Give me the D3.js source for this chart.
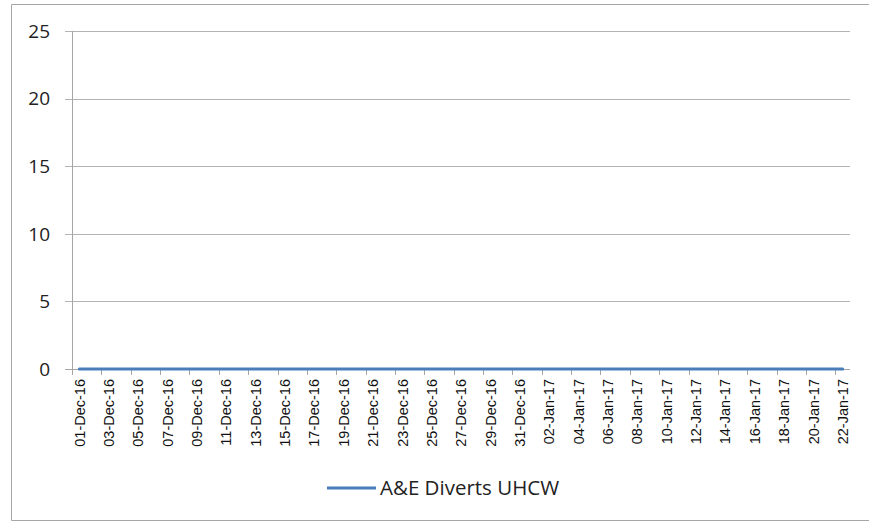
<!DOCTYPE html>
<html>
<head>
<meta charset="utf-8">
<script src="https://cdn.jsdelivr.net/npm/d3@7"></script>
<style>
  body { margin: 0; background: #fff; }
  svg { display: block; }
</style>
</head>
<body>
<div id="chart"></div>
<script>
// categories: one per day
var dates = [
  "01-Dec-16", "02-Dec-16", "03-Dec-16", "04-Dec-16", "05-Dec-16", "06-Dec-16", "07-Dec-16",
  "08-Dec-16", "09-Dec-16", "10-Dec-16", "11-Dec-16", "12-Dec-16", "13-Dec-16", "14-Dec-16",
  "15-Dec-16", "16-Dec-16", "17-Dec-16", "18-Dec-16", "19-Dec-16", "20-Dec-16", "21-Dec-16",
  "22-Dec-16", "23-Dec-16", "24-Dec-16", "25-Dec-16", "26-Dec-16", "27-Dec-16", "28-Dec-16",
  "29-Dec-16", "30-Dec-16", "31-Dec-16", "01-Jan-17", "02-Jan-17", "03-Jan-17", "04-Jan-17",
  "05-Jan-17", "06-Jan-17", "07-Jan-17", "08-Jan-17", "09-Jan-17", "10-Jan-17", "11-Jan-17",
  "12-Jan-17", "13-Jan-17", "14-Jan-17", "15-Jan-17", "16-Jan-17", "17-Jan-17", "18-Jan-17",
  "19-Jan-17", "20-Jan-17", "21-Jan-17", "22-Jan-17"
];

// A&E Diverts UHCW, daily count
var diverts = [
  0, 0, 0, 0, 0, 0, 0,
  0, 0, 0, 0, 0, 0, 0,
  0, 0, 0, 0, 0, 0, 0,
  0, 0, 0, 0, 0, 0, 0,
  0, 0, 0, 0, 0, 0, 0,
  0, 0, 0, 0, 0, 0, 0,
  0, 0, 0, 0, 0, 0, 0,
  0, 0, 0, 0
];

var yTicks = [0, 5, 10, 15, 20, 25];
var seriesName = "A&E Diverts UHCW";

var W = 869, H = 521;
var margin = { top: 31, right: 19, bottom: 152, left: 72 };
var width = W - margin.left - margin.right,
    height = H - margin.top - margin.bottom;

var svg = d3.select("#chart").append("svg")
    .attr("width", W)
    .attr("height", H);

// chart border (right edge falls outside the picture)
svg.append("path")
    .attr("d", "M869,4.5 H11.5 V520.5 H869")
    .attr("fill", "none")
    .attr("stroke", "#a6a6a6")
    .attr("stroke-width", 1);

var g = svg.append("g")
    .attr("transform", "translate(" + margin.left + "," + margin.top + ")");

var x = d3.scaleBand().domain(dates).range([0, width]).padding(0);
var y = d3.scaleLinear().domain([0, 25]).range([height, 0]);

// gridlines + y ticks
g.append("g").selectAll("line")
    .data(yTicks)
    .enter().append("line")
    .attr("x1", -7).attr("x2", width)
    .attr("y1", function (d) { return Math.round(y(d)) + 0.5; })
    .attr("y2", function (d) { return Math.round(y(d)) + 0.5; })
    .attr("stroke", "#b3b3b3")
    .attr("stroke-width", 1);

// y labels
g.append("g").selectAll("text")
    .data(yTicks)
    .enter().append("text")
    .attr("x", -22)
    .attr("y", function (d) { return y(d); })
    .attr("dy", "0.36em")
    .attr("text-anchor", "end")
    .attr("font-family", "'Open Sans', sans-serif")
    .attr("font-size", "19px")
    .attr("fill", "#222")
    .text(function (d) { return d; });

// y axis line
g.append("line")
    .attr("x1", 0.5).attr("x2", 0.5)
    .attr("y1", 0).attr("y2", height + 6)
    .attr("stroke", "#a6a6a6");

// x axis line
g.append("line")
    .attr("x1", -7).attr("x2", width)
    .attr("y1", Math.round(height) + 0.5).attr("y2", Math.round(height) + 0.5)
    .attr("stroke", "#a6a6a6");

// x tick marks on category boundaries, every 2 days
var every2 = dates.filter(function (d, i) { return i % 2 == 0; });
g.append("g").selectAll("line")
    .data(every2)
    .enter().append("line")
    .attr("x1", function (d) { return Math.round(x(d)) + 0.5; })
    .attr("x2", function (d) { return Math.round(x(d)) + 0.5; })
    .attr("y1", height).attr("y2", height + 6)
    .attr("stroke", "#a6a6a6");

// x labels via axis
var xAxis = d3.axisBottom(x).tickValues(every2).tickSize(0).tickPadding(0);
var xg = g.append("g")
    .attr("transform", "translate(0," + height + ")")
    .call(xAxis);
xg.select(".domain").remove();
xg.selectAll("text")
    .attr("font-family", "'Liberation Sans', Arial, sans-serif")
    .attr("font-size", "14.5px")
    .attr("fill", "#111")
    .attr("text-anchor", "end")
    .attr("transform", "rotate(-90)")
    .attr("x", -10)
    .attr("y", 0)
    .attr("dy", "0.36em");

// the series line
var line = d3.line()
    .x(function (d, i) { return x(dates[i]) + x.bandwidth() / 2; })
    .y(function (d) { return y(d); });

g.append("path")
    .datum(diverts)
    .attr("fill", "none")
    .attr("stroke", "#4a7ebb")
    .attr("stroke-width", 3)
    .attr("stroke-linecap", "round")
    .attr("d", line);

// legend
var legend = svg.append("g").attr("transform", "translate(327,488)");
legend.append("line")
    .attr("x1", 0).attr("x2", 49)
    .attr("y1", 0).attr("y2", 0)
    .attr("stroke", "#4a7ebb")
    .attr("stroke-width", 3);
legend.append("text")
    .attr("x", 53)
    .attr("y", 0)
    .attr("dy", "0.36em")
    .attr("font-family", "'Open Sans', sans-serif")
    .attr("font-size", "20.5px")
    .attr("fill", "#222")
    .text(seriesName);
</script>
</body>
</html>
